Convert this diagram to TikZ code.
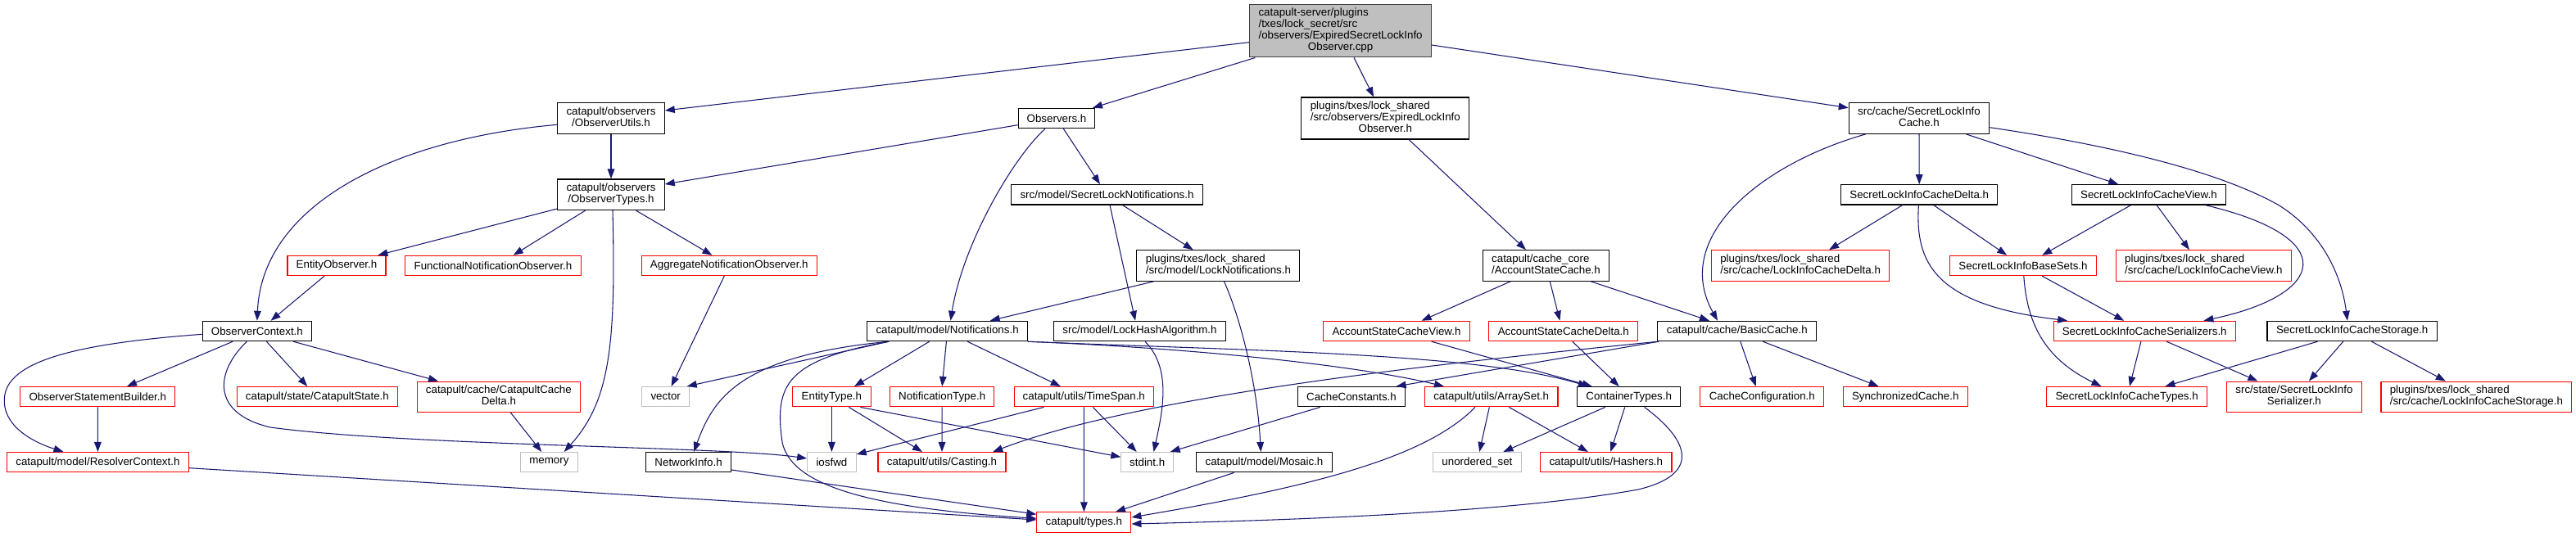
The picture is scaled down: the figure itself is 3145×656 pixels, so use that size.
\documentclass[tikz,border=0pt]{standalone}
\usepackage{fontspec}
\setmainfont{Liberation Sans}
\usetikzlibrary{arrows.meta,calc}
\definecolor{edgeblue}{HTML}{191970}
\definecolor{sysgray}{HTML}{BFBFBF}
\definecolor{mainfill}{HTML}{BFBFBF}
\newcommand\ml[2]{\begin{tabular}{@{}l@{}}#1\\\multicolumn{1}{@{}c@{}}{#2}\end{tabular}}
\tikzset{
  nd/.style 2 args={rectangle, inner sep=0pt, line width=0.8pt, font=\fontsize{10}{10.3}\selectfont,
     minimum width=#1*0.75pt, minimum height=#2*0.75pt},
  blk/.style={draw=black},
  trunc/.style={draw=red},
  sys/.style={draw=sysgray},
  root/.style={draw=black!75, fill=mainfill},
  e/.style={draw=edgeblue, line width=0.8pt, -{Triangle[length=9pt,width=6.5pt,fill=edgeblue]}}
}
\begin{document}
\begin{tikzpicture}[x=0.75pt,y=-0.75pt]
\useasboundingbox (0,0) rectangle (3145,656);
% row 1
\node[nd={222}{64.3},root] (main) at (1636.6,37.8) {\begin{tabular}{@{}l@{}}catapult-server/plugins\\/txes/lock\_secret/src\\/observers/ExpiredSecretLockInfo\\\multicolumn{1}{@{}c@{}}{Observer.cpp}\end{tabular}};
% row 2
\node[nd={130.5}{37.6},blk] (OU) at (746,144.5) {\ml{catapult/observers}{/ObserverUtils.h}};
\node[nd={93.6}{24.4},blk] (OB) at (1290,144.5) {Observers.h};
\node[nd={205}{51},blk] (ELO) at (1691.3,144.5) {\begin{tabular}{@{}l@{}}plugins/txes/lock\_shared\\/src/observers/ExpiredLockInfo\\\multicolumn{1}{@{}c@{}}{Observer.h}\end{tabular}};
\node[nd={171.5}{37.6},blk] (SLC) at (2343,144.5) {\ml{src/cache/SecretLockInfo}{Cache.h}};
% row 3
\node[nd={130.5}{37.6},blk] (OT) at (746,237.8) {\ml{catapult/observers}{/ObserverTypes.h}};
\node[nd={233.8}{24.4},blk] (SLN) at (1351.5,237.8) {src/model/SecretLockNotifications.h};
\node[nd={191}{24.4},blk] (SLCD) at (2343.2,237.8) {SecretLockInfoCacheDelta.h};
\node[nd={188}{24.4},blk] (SLCV) at (2623.4,237.8) {SecretLockInfoCacheView.h};
% row 4
\node[nd={120}{24.4},trunc] (EO) at (411,324.5) {EntityObserver.h};
\node[nd={214.6}{24.4},trunc] (FNO) at (602,324.5) {FunctionalNotificationObserver.h};
\node[nd={214}{24.4},trunc] (ANO) at (890.3,324.5) {AggregateNotificationObserver.h};
\node[nd={199}{37.6},blk] (LN) at (1487.4,324.5) {\ml{plugins/txes/lock\_shared}{/src/model/LockNotifications.h}};
\node[nd={154.3}{37.6},blk] (ASC) at (1887.5,324.5) {\ml{catapult/cache\_core}{/AccountStateCache.h}};
\node[nd={217}{37.6},trunc] (LICD) at (2198.1,324.5) {\ml{plugins/txes/lock\_shared}{/src/cache/LockInfoCacheDelta.h}};
\node[nd={178.7}{24.4},trunc] (SLBS) at (2470,324.5) {SecretLockInfoBaseSets.h};
\node[nd={214}{37.6},trunc] (LICV) at (2690.4,324.5) {\ml{plugins/txes/lock\_shared}{/src/cache/LockInfoCacheView.h}};
% row 5
\node[nd={133.3}{24.4},blk] (OC) at (313.9,404.5) {ObserverContext.h};
\node[nd={195.3}{24.4},blk] (NOT) at (1156.6,404.5) {catapult/model/Notifications.h};
\node[nd={209.7}{24.4},blk] (LHA) at (1391.5,404.5) {src/model/LockHashAlgorithm.h};
\node[nd={178.4}{24.4},trunc] (ASCV) at (1705,404.5) {AccountStateCacheView.h};
\node[nd={181.8}{24.4},trunc] (ASCD) at (1908.8,404.5) {AccountStateCacheDelta.h};
\node[nd={193.9}{24.4},blk] (BC) at (2120.8,404.5) {catapult/cache/BasicCache.h};
\node[nd={222.3}{24.4},trunc] (SLCS) at (2618.2,404.5) {SecretLockInfoCacheSerializers.h};
\node[nd={207.5}{24.4},blk] (SLCST) at (2871.7,404.5) {SecretLockInfoCacheStorage.h};
% row 6
\node[nd={189}{24.4},trunc] (OSB) at (119.3,484.7) {ObserverStatementBuilder.h};
\node[nd={196.2}{24.4},trunc] (CS) at (387.4,484.7) {catapult/state/CatapultState.h};
\node[nd={199.7}{37.3},trunc] (CCD) at (608.9,484.7) {\ml{catapult/cache/CatapultCache}{Delta.h}};
\node[nd={57.8}{24.4},sys] (VEC) at (812.7,484.7) {vector};
\node[nd={95.3}{24.4},trunc] (ET) at (1015.4,484.7) {EntityType.h};
\node[nd={127.4}{24.4},trunc] (NT) at (1150.2,484.7) {NotificationType.h};
\node[nd={170.5}{24.4},trunc] (TS) at (1323.3,484.7) {catapult/utils/TimeSpan.h};
\node[nd={131.2}{24.4},blk] (CC) at (1650,484.7) {CacheConstants.h};
\node[nd={162.6}{24.4},trunc] (AS) at (1820.7,484.7) {catapult/utils/ArraySet.h};
\node[nd={126}{24.4},blk] (CT) at (1988.7,484.7) {ContainerTypes.h};
\node[nd={150.9}{24.4},trunc] (CCF) at (2151.3,484.7) {CacheConfiguration.h};
\node[nd={152.2}{24.4},trunc] (SC) at (2326.2,484.7) {SynchronizedCache.h};
\node[nd={195.8}{24.4},trunc] (SLCT) at (2596.6,484.7) {SecretLockInfoCacheTypes.h};
\node[nd={164.8}{37.3},trunc] (SLIS) at (2800.9,484.7) {\ml{src/state/SecretLockInfo}{Serializer.h}};
\node[nd={232.9}{37.3},trunc] (LICS) at (3023.4,484.7) {\ml{plugins/txes/lock\_shared}{/src/cache/LockInfoCacheStorage.h}};
% row 7
\node[nd={222.1}{24.4},trunc] (RC) at (119.4,564.7) {catapult/model/ResolverContext.h};
\node[nd={69.9}{24.4},sys] (MEM) at (670.4,564.7) {memory};
\node[nd={104}{24.4},blk] (NI) at (840.6,564.7) {NetworkInfo.h};
\node[nd={59.5}{24.4},sys] (IOS) at (1015.4,564.7) {iosfwd};
\node[nd={156}{24.4},trunc] (CAST) at (1150,564.7) {catapult/utils/Casting.h};
\node[nd={63.7}{24.4},sys] (STD) at (1400.7,564.7) {stdint.h};
\node[nd={165.3}{24.4},blk] (MOS) at (1543.5,564.7) {catapult/model/Mosaic.h};
\node[nd={107.5}{24.4},sys] (US) at (1803.4,564.7) {unordered\_set};
\node[nd={160.4}{24.4},trunc] (HASH) at (1960.8,564.7) {catapult/utils/Hashers.h};
% row 8
\node[nd={115}{24.4},trunc] (TYPES) at (1323.4,638) {catapult/types.h};

% edges
\draw[e] ($(main.west)+(0,13.9)$) -- ($(OU.east)+(0,-9.5)$);
\draw[e] ($(main.south)+(-104.2,0)$) -- ($(OB.north)+(44,0)$);
\draw[e] ($(main.south)+(16.4,0)$) -- ($(ELO.north)+(-14.2,0)$);
\draw[e] ($(main.east)+(0,17.2)$) -- ($(SLC.west)+(0,-12.8)$);
\draw[e] (OU.south) -- (OT.north);
\draw[e] ($(OU.west)+(0,7.8)$) .. controls (480,170) and (320,250) .. (OC.north);
\draw[e] ($(OB.west)+(0,8.2)$) -- ($(OT.east)+(0,-12.8)$);
\draw[e] ($(OB.south)+(8.3,0)$) -- ($(SLN.north)+(-8.5,0)$);
\draw[e] ($(OB.south)+(-14.1,0)$) .. controls (1235,195) and (1175,300) .. ($(NOT.north)+(3.9,0)$);
\draw[e] ($(OT.west)+(0,17.2)$) -- ($(EO.north)+(50.4,0)$);
\draw[e] ($(OT.south)+(-31.4,0)$) -- ($(FNO.north)+(24.7,0)$);
\draw[e] ($(OT.south)+(2,0)$) .. controls (752,420) and (745,490) .. ($(MEM.north)+(18.3,0)$);
\draw[e] ($(OT.south)+(30.5,0)$) -- ($(ANO.north)+(-20.8,0)$);
\draw[e] ($(EO.south)+(-15,0)$) -- ($(OC.north)+(16.7,0)$);
\draw[e] ($(ANO.south)+(-6,0)$) -- ($(VEC.north)+(6.9,0)$);
\draw[e] ($(OC.west)+(0,3.8)$) .. controls (120,418) and (10,435) .. (5.5,485) .. controls (2,520) and (40,540) .. ($(RC.north)+(-41.9,0)$);
\draw[e] ($(OC.south)+(-29.8,0)$) -- ($(OSB.north)+(35.7,0)$);
\draw[e] ($(OC.south)+(-12.6,0)$) .. controls (262,455) and (258,505) .. (330,522) .. controls (500,545) and (880,545) .. ($(IOS.west)+(0,-4.7)$);
\draw[e] ($(OC.south)+(11.5,0)$) -- ($(CS.north)+(-12.1,0)$);
\draw[e] ($(OC.south)+(44.2,0)$) -- ($(CCD.north)+(-73.9,0)$);
\draw[e] (OSB.south) -- (RC.north);
\draw[e] ($(CCD.south)+(14.4,0)$) -- ($(MEM.north)+(-9.2,0)$);
\draw[e] ($(RC.east)+(0,7)$) -- ($(TYPES.west)+(0,-3)$);
\draw[e] ($(NI.east)+(0,9.3)$) -- ($(TYPES.west)+(0,-9.7)$);
\draw[e] ($(NOT.south)+(-71.6,0)$) -- ($(VEC.north)+(26,0)$);
\draw[e] ($(NOT.south)+(-71.6,0)$) .. controls (899,435) and (870,490) .. ($(NI.north)+(6.4,0)$);
\draw[e] ($(NOT.south)+(-71.6,0)$) .. controls (960,440) and (945,470) .. (955,540) .. controls (965,590) and (1050,620) .. ($(TYPES.west)+(0,-4.7)$);
\draw[e] ($(NOT.south)+(-21.9,0)$) -- ($(ET.north)+(27.6,0)$);
\draw[e] ($(NOT.south)+(-1.2,0)$) -- (NT.north);
\draw[e] ($(NOT.south)+(24.6,0)$) -- ($(TS.north)+(-28.5,0)$);
\draw[e] (NOT.south east) .. controls (1450,425) and (1650,445) .. ($(AS.north)+(-57.7,0)$);
\draw[e] (NOT.south east) .. controls (1500,428) and (1800,430) .. ($(CT.north)+(-49.9,0)$);
\draw[e] ($(SLN.south)+(19,0)$) -- ($(LN.north)+(-30.7,0)$);
\draw[e] ($(SLN.south)+(3.5,0)$) -- ($(LHA.north)+(-5.4,0)$);
\draw[e] ($(LN.south)+(-78.9,0)$) -- ($(NOT.north)+(52.1,0)$);
\draw[e] ($(LN.south)+(7.1,0)$) .. controls (1515,390) and (1535,470) .. ($(MOS.north)+(-4.2,0)$);
\draw[e] ($(LHA.south)+(6.6,0)$) .. controls (1430,450) and (1420,500) .. ($(STD.north)+(7.8,0)$);
\draw[e] (ET.south) -- (IOS.north);
\draw[e] ($(ET.south)+(21,0)$) -- ($(CAST.north)+(-24,0)$);
\draw[e] ($(ET.south)+(35,0)$) -- ($(STD.west)+(0,-6.4)$);
\draw[e] (NT.south) -- (CAST.north);
\draw[e] ($(TS.south)+(-49,0)$) -- ($(IOS.east)+(0,-9.7)$);
\draw[e] ($(TS.south)+(11,0)$) -- ($(STD.north)+(-13,0)$);
\draw[e] (TS.south) -- (TYPES.north);
\draw[e] ($(BC.south)+(-95.8,0)$) -- ($(CC.north)+(54.6,0)$);
\draw[e] ($(BC.south)+(-96.8,0)$) .. controls (1800,440) and (1400,480) .. ($(CAST.north)+(62.2,0)$);
\draw[e] ($(BC.south)+(4,0)$) -- ($(CCF.north)+(-7.6,0)$);
\draw[e] ($(BC.south)+(31.5,0)$) -- ($(SC.north)+(-32.7,0)$);
\draw[e] ($(CC.south)+(-38.3,0)$) -- ($(STD.north)+(28,0)$);
\draw[e] ($(AS.south)+(-2.4,0)$) -- ($(US.north)+(2.8,0)$);
\draw[e] ($(AS.south)+(21.7,0)$) -- ($(HASH.north)+(-22,0)$);
\draw[e] ($(AS.south)+(-19.7,0)$) .. controls (1740,560) and (1600,595) .. ($(TYPES.east)+(0,-6)$);
\draw[e] ($(CT.south)+(-29,0)$) -- ($(US.north)+(32,0)$);
\draw[e] ($(CT.south)+(-5,0)$) -- ($(HASH.north)+(5.5,0)$);
\draw[e] ($(CT.south)+(19,0)$) .. controls (2065,540) and (2075,580) .. (2000,598) .. controls (1850,625) and (1600,635) .. ($(TYPES.east)+(0,2)$);
\draw[e] ($(MOS.south)+(-36.9,0)$) -- ($(TYPES.north)+(38.6,0)$);
\draw[e] ($(ASC.south)+(-43.4,0)$) -- ($(ASCV.north)+(30.6,0)$);
\draw[e] ($(ASC.south)+(4.8,0)$) -- ($(ASCD.north)+(-4.4,0)$);
\draw[e] ($(ASC.south)+(54.7,0)$) -- ($(BC.north)+(-33.9,0)$);
\draw[e] ($(ASCV.south)+(42.7,0)$) -- ($(CT.north)+(-45,0)$);
\draw[e] ($(ASCD.south)+(11,0)$) -- ($(CT.north)+(-12,0)$);
\draw[e] ($(ELO.south)+(28.8,0)$) -- ($(ASC.north)+(-24.5,0)$);
\draw[e] ($(SLC.south)+(-65,0)$) .. controls (2150,200) and (2040,290) .. ($(BC.north)+(-23.8,0)$);
\draw[e] (SLC.south) -- (SLCD.north);
\draw[e] ($(SLC.south)+(57.2,0)$) -- ($(SLCV.north)+(-37.2,0)$);
\draw[e] ($(SLC.east)+(0,11.2)$) .. controls (2560,175) and (2700,205) .. (2781,250) .. controls (2830,280) and (2858,330) .. ($(SLCST.north)+(-5.8,0)$);
\draw[e] ($(SLCD.south)+(-20.4,0)$) -- ($(LICD.north)+(35,0)$);
\draw[e] ($(SLCD.south)+(17.4,0)$) -- ($(SLBS.north)+(-19.8,0)$);
\draw[e] ($(SLCD.south)+(-0.8,0)$) .. controls (2338,320) and (2360,372) .. ($(SLCS.north)+(-94,0)$);
\draw[e] ($(SLCV.south)+(-21.7,0)$) -- ($(SLBS.north)+(23.2,0)$);
\draw[e] ($(SLCV.south)+(9.6,0)$) -- ($(LICV.north)+(-17.4,0)$);
\draw[e] ($(SLCV.south)+(68.7,0)$) .. controls (2860,290) and (2840,360) .. ($(SLCS.north)+(72.2,0)$);
\draw[e] ($(SLBS.south)+(23.2,0)$) -- ($(SLCS.north)+(-25,0)$);
\draw[e] ($(SLBS.south)+(0.8,0)$) .. controls (2475,400) and (2500,440) .. ($(SLCT.north)+(-31.1,0)$);
\draw[e] ($(SLCS.south)+(-4.3,0)$) -- ($(SLCT.north)+(3.4,0)$);
\draw[e] ($(SLCS.south)+(27,0)$) -- ($(SLIS.north)+(-44.5,0)$);
\draw[e] ($(SLCST.south)+(-42.3,0)$) -- ($(SLCT.north)+(46.8,0)$);
\draw[e] ($(SLCST.south)+(-11,0)$) -- ($(SLIS.north)+(18,0)$);
\draw[e] ($(SLCST.south)+(23.7,0)$) -- ($(LICS.north)+(-37.6,0)$);
\end{tikzpicture}
\end{document}
